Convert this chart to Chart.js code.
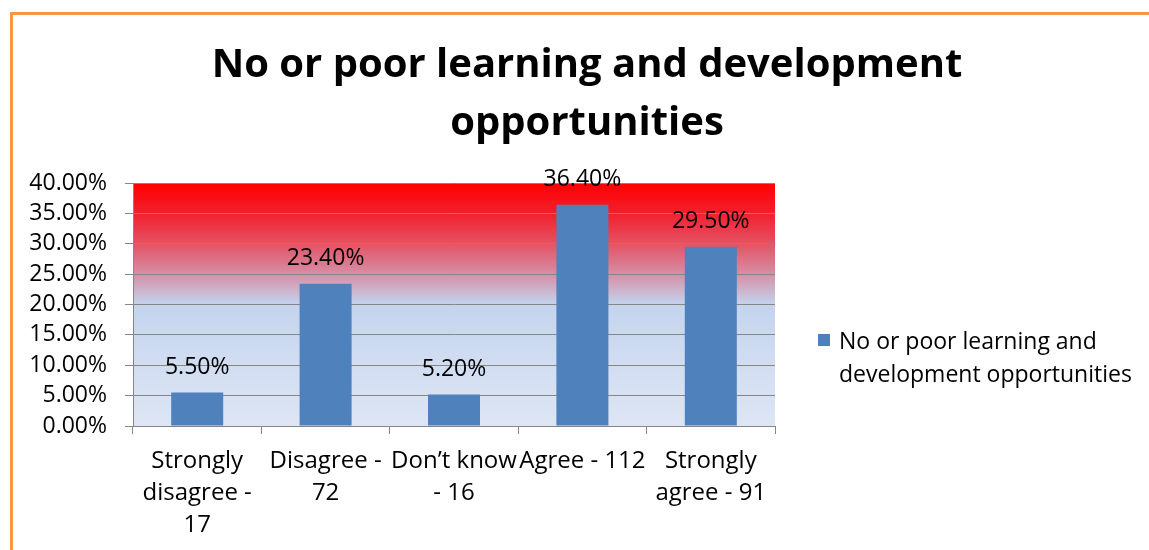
<!DOCTYPE html>
<html>
<head>
<meta charset="utf-8">
<script src="https://cdn.jsdelivr.net/npm/chart.js@4.4.1/dist/chart.umd.min.js"></script>
<style>
  html, body { margin: 0; padding: 0; background: #fff; overflow: hidden; }
  .frame {
    position: absolute; left: 10px; top: 12px;
    width: 1139px; height: 538px;
    border-left: 3px solid #F79646; border-top: 3px solid #F79646;
  }
  #chart { display: block; }
</style>
</head>
<body>
<div class="frame"><canvas id="chart" width="1136" height="535"></canvas></div>
<script>
const titleLines = ['No or poor learning and development', 'opportunities'];
const seriesName = 'No or poor learning and development opportunities';
const legendLines = ['No or poor learning and', 'development opportunities'];
const categories = [
  ['Strongly', 'disagree -', '17'],
  ['Disagree -', '72'],
  ['Don\u2019t know', '- 16'],
  ['Agree - 112'],
  ['Strongly', 'agree - 91']
];
const percentages = [5.5, 23.4, 5.2, 36.4, 29.5];

const FONT = '"Open Sans", sans-serif';
const BAR_COLOR = '#4F81BD';

// two-line bold heading, centred over the whole figure
const heading = {
  id: 'heading',
  afterDraw(chart) {
    const { ctx } = chart;
    ctx.save();
    ctx.font = 'bold 40px ' + FONT;
    ctx.fillStyle = '#000';
    ctx.textAlign = 'center';
    ctx.textBaseline = 'alphabetic';
    ctx.fillText(titleLines[0], 574, 62);
    ctx.fillText(titleLines[1], 574, 120);
    ctx.restore();
  }
};

// red-to-blue fill behind the bars
const plotBackground = {
  id: 'plotBackground',
  beforeDraw(chart) {
    const { ctx, chartArea: a } = chart;
    const g = ctx.createLinearGradient(0, a.top, 0, a.bottom);
    g.addColorStop(0, '#FF0000');
    g.addColorStop(0.125, '#F2202E');
    g.addColorStop(0.25, '#E45264');
    g.addColorStop(0.375, '#D58FA6');
    g.addColorStop(0.5, '#C4D4EE');
    g.addColorStop(1, '#DEE6F4');
    ctx.save();
    ctx.fillStyle = g;
    ctx.fillRect(a.left, a.top, a.right - a.left, a.bottom - a.top);
    ctx.restore();
  }
};

// percentage labels above each bar
const barLabels = {
  id: 'barLabels',
  afterDatasetsDraw(chart) {
    const { ctx } = chart;
    const meta = chart.getDatasetMeta(0);
    ctx.save();
    ctx.font = '23px ' + FONT;
    ctx.fillStyle = '#000';
    ctx.textAlign = 'center';
    ctx.textBaseline = 'middle';
    meta.data.forEach((bar, i) => {
      ctx.fillText(percentages[i].toFixed(2) + '%', bar.x, bar.y - 25);
    });
    ctx.restore();
  }
};

// legend box at the right, label wrapped on two lines
const sideLegend = {
  id: 'sideLegend',
  afterDraw(chart) {
    const { ctx } = chart;
    const x = 805, y = 325;
    ctx.save();
    ctx.fillStyle = BAR_COLOR;
    ctx.fillRect(x, y - 6, 12, 12);
    ctx.font = '23px ' + FONT;
    ctx.fillStyle = '#000';
    ctx.textBaseline = 'middle';
    legendLines.forEach((line, i) => ctx.fillText(line, x + 21, y + 2 + i * 33));
    ctx.restore();
  }
};

const ctx = document.querySelector('#chart').getContext('2d');
const chart = new Chart(ctx, {
  type: 'bar',
  data: {
    labels: categories,
    datasets: [{
      label: seriesName,
      data: percentages,
      backgroundColor: BAR_COLOR,
      barPercentage: 0.405,
      categoryPercentage: 1
    }]
  },
  options: {
    responsive: false,
    animation: false,
    layout: { padding: { left: 0, right: 374, top: 168, bottom: 0 } },
    plugins: {
      legend: { display: false },
      tooltip: { enabled: false },
      title: { display: false }
    },
    scales: {
      x: {
        afterFit: scale => { scale.height = 124; },
        grid: {
          offset: true,
          drawOnChartArea: false,
          color: '#868686',
          tickLength: 8
        },
        border: { color: '#868686' },
        ticks: {
          color: '#000',
          maxRotation: 0,
          autoSkip: false,
          padding: 11,
          font: { family: FONT, size: 24, lineHeight: 1.33 }
        }
      },
      y: {
        min: 0,
        max: 40,
        afterFit: scale => { scale.width = 120; },
        grid: { color: '#868686', tickLength: 8 },
        border: { color: '#868686' },
        ticks: {
          stepSize: 5,
          autoSkip: false,
          color: '#000',
          padding: 18,
          font: { family: FONT, size: 23 },
          callback: v => v.toFixed(2) + '%'
        }
      }
    }
  },
  plugins: [plotBackground, barLabels, sideLegend, heading]
});
</script>
</body>
</html>
